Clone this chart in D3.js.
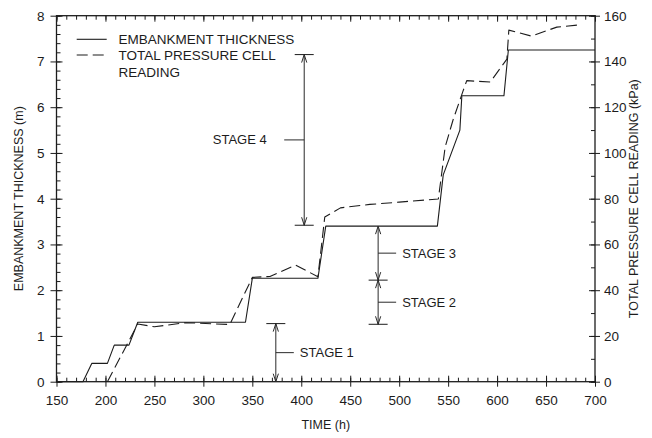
<!DOCTYPE html>
<html>
<head>
<meta charset="utf-8">
<script src="https://cdn.jsdelivr.net/npm/d3@7"></script>
<style>
  html, body { margin: 0; padding: 0; background: #fff; }
  svg { display: block; font-family: "Liberation Sans", Arial, Helvetica, sans-serif; }
</style>
</head>
<body>
<svg id="chart" width="652" height="438"></svg>
<script>
// Embankment thickness (m) against time (h)
const thicknessTime = [150, 177, 186, 202, 209, 224, 233, 343, 350, 417, 425, 539, 545, 562, 564, 607, 611.5, 700];
const thicknessM    = [0, 0, 0.4, 0.4, 0.8, 0.8, 1.3, 1.3, 2.26, 2.26, 3.4, 3.4, 4.52, 5.5, 6.25, 6.25, 7.25, 7.25];

// Total pressure cell reading (kPa) against time (h)
const pressureTime = [202, 233, 250, 282, 327, 350, 368, 394, 417, 424, 440, 470, 500, 540, 547, 555, 565, 569, 593, 610, 612, 635, 661, 684];
const pressureKPa  = [0, 25.2, 24, 25.8, 25, 45.6, 46, 51, 45.9, 72, 76, 77.5, 78.5, 79.9, 102.7, 114.4, 126.8, 131.6, 131, 141, 153.7, 151.1, 155, 156];

// Axis ticks
const timeTicks = [150, 200, 250, 300, 350, 400, 450, 500, 550, 600, 650, 700];
const thicknessTicks = [0, 1, 2, 3, 4, 5, 6, 7, 8];
const pressureTicks = [0, 20, 40, 60, 80, 100, 120, 140, 160];

// Construction stages: time, top (m), bottom (m)
const stageNames = ["STAGE 1", "STAGE 2", "STAGE 3", "STAGE 4"];
const stageTime  = [374, 478.5, 478.5, 403];
const stageTop   = [1.27, 2.22, 3.4, 7.15];
const stageBot   = [0, 1.255, 2.22, 3.42];

const legendNames = ["EMBANKMENT THICKNESS", "TOTAL PRESSURE CELL", "READING"];

const svg = d3.select("#chart");
const L = 56.5, R = 595, T = 15.7, B = 381.7;
const ink = "#1c1c1c";

const x = d3.scaleLinear().domain([150, 700]).range([L, R]);
const yL = d3.scaleLinear().domain([0, 8]).range([B, T]);
const yR = d3.scaleLinear().domain([0, 160]).range([B, T]);

const minor = (a, b, s) => d3.range(a, b + s / 2, s);

// Minor ticks (inside)
svg.append("g").attr("transform", `translate(0,${B})`)
  .call(d3.axisBottom(x).tickValues(minor(150, 700, 10)).tickSize(-4).tickFormat(""));
svg.append("g").attr("transform", `translate(0,${T})`)
  .call(d3.axisTop(x).tickValues(minor(150, 700, 10)).tickSize(-4).tickFormat(""));
svg.append("g").attr("transform", `translate(${L},0)`)
  .call(d3.axisLeft(yL).tickValues(minor(0, 8, 0.2)).tickSize(-4).tickFormat(""));
svg.append("g").attr("transform", `translate(${R},0)`)
  .call(d3.axisRight(yR).tickValues(minor(0, 160, 10)).tickSize(-4).tickFormat(""));

// Major ticks and labels
const gx = svg.append("g").attr("transform", `translate(0,${B})`)
  .call(d3.axisBottom(x).tickValues(timeTicks).tickSize(5).tickPadding(9).tickFormat(d3.format("d")));
gx.selectAll(".tick line").attr("y1", -6);
svg.append("g").attr("transform", `translate(0,${T})`)
  .call(d3.axisTop(x).tickValues(timeTicks).tickSize(-6).tickFormat(""));

const gl = svg.append("g").attr("transform", `translate(${L},0)`)
  .call(d3.axisLeft(yL).tickValues(thicknessTicks).tickSize(6).tickPadding(6).tickFormat(d3.format("d")));
gl.selectAll(".tick line").attr("x1", 6);

const gr = svg.append("g").attr("transform", `translate(${R},0)`)
  .call(d3.axisRight(yR).tickValues(pressureTicks).tickSize(5).tickPadding(4).tickFormat(d3.format("d")));
gr.selectAll(".tick line").attr("x1", -6);

svg.selectAll(".domain").remove();
svg.selectAll(".tick line").attr("stroke", ink).attr("stroke-width", 1);
svg.selectAll(".tick text").attr("fill", ink).attr("font-size", 13.5)
  .attr("font-family", "'Liberation Sans', Arial, sans-serif");

// Plot frame
svg.append("rect").attr("x", L).attr("y", T).attr("width", R - L).attr("height", B - T)
  .attr("fill", "none").attr("stroke", ink).attr("stroke-width", 1.3);

// Series
const thicknessLine = d3.line().x((d, i) => x(thicknessTime[i])).y(d => yL(d));
svg.append("path").attr("d", thicknessLine(thicknessM))
  .attr("fill", "none").attr("stroke", ink).attr("stroke-width", 1.1).attr("stroke-linejoin", "round");

const pressureLine = d3.line().x((d, i) => x(pressureTime[i])).y(d => yR(d));
svg.append("path").attr("d", pressureLine(pressureKPa))
  .attr("fill", "none").attr("stroke", ink).attr("stroke-width", 1.1)
  .attr("stroke-dasharray", "11,5").attr("stroke-linejoin", "round");

// Stage dimension arrows
const ann = svg.append("g").attr("stroke", "#2a2a2a").attr("stroke-width", 1).attr("fill", "none");
function arrowHead(px, py, dir) {
  // open V head with its tip at (px, py); dir = -1 points up, +1 points down
  ann.append("path").attr("d", `M${px - 2.6},${py - dir * 8}L${px},${py}L${px + 2.6},${py - dir * 8}`);
}
function cap(px, v) {
  ann.append("line").attr("x1", px - 9.5).attr("x2", px + 9.5).attr("y1", yL(v)).attr("y2", yL(v))
    .attr("stroke", ink);
}
stageNames.forEach((name, i) => {
  const px = x(stageTime[i]);
  const yt = yL(stageTop[i]), yb = yL(stageBot[i]);
  ann.append("line").attr("x1", px).attr("x2", px).attr("y1", yt).attr("y2", yb);
  arrowHead(px, yt, -1);
  arrowHead(px, yb, 1);
  const ym = (yt + yb) / 2;
  if (i === 3) {
    // label on the left of the arrow
    ann.append("line").attr("x1", px - 20).attr("x2", px).attr("y1", ym).attr("y2", ym);
    svg.append("text").attr("x", px - 37.5).attr("y", ym).attr("dy", "0.35em")
      .attr("text-anchor", "end").attr("font-size", 13).attr("fill", ink).text(name);
  } else {
    ann.append("line").attr("x1", px).attr("x2", px + 18).attr("y1", ym).attr("y2", ym);
    svg.append("text").attr("x", px + 24).attr("y", ym).attr("dy", "0.35em")
      .attr("font-size", 13).attr("fill", ink).text(name);
  }
});
// End caps
cap(x(374), 1.27);
cap(x(478.5), 2.22);
cap(x(478.5), 1.255);
cap(x(403), 7.15);
cap(x(403), 3.42);

// Legend
const lg = svg.append("g");
lg.append("line").attr("x1", 76.7).attr("x2", 106.7).attr("y1", 39.3).attr("y2", 39.3)
  .attr("stroke", ink).attr("stroke-width", 1.1);
lg.append("line").attr("x1", 76.7).attr("x2", 106.7).attr("y1", 55).attr("y2", 55)
  .attr("stroke", ink).attr("stroke-width", 1.1).attr("stroke-dasharray", "11,5");
[39.3, 55, 72].forEach((yy, i) => {
  lg.append("text").attr("x", 118.5).attr("y", yy).attr("dy", "0.35em")
    .attr("font-size", 13.5).attr("fill", ink).text(legendNames[i]);
});

// Axis titles
svg.append("text").attr("x", (L + R) / 2).attr("y", 425).attr("dy", "0.35em")
  .attr("text-anchor", "middle").attr("font-size", 12.5).attr("fill", ink).text("TIME (h)");
svg.append("text").attr("transform", `translate(19,${(T + B) / 2}) rotate(-90)`).attr("dy", "0.35em")
  .attr("text-anchor", "middle").attr("font-size", 12.5).attr("fill", ink).text("EMBANKMENT THICKNESS (m)");
svg.append("text").attr("transform", `translate(634,${(T + B) / 2}) rotate(-90)`).attr("dy", "0.35em")
  .attr("text-anchor", "middle").attr("font-size", 12.5).attr("fill", ink).text("TOTAL PRESSURE CELL READING (kPa)");
</script>
</body>
</html>
